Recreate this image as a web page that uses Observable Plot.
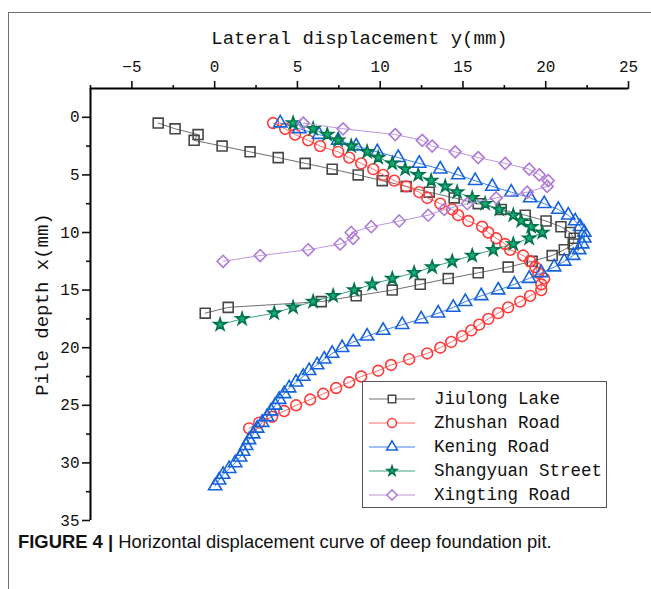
<!DOCTYPE html>
<html>
<head>
<meta charset="utf-8">
<script src="https://cdn.jsdelivr.net/npm/d3@7"></script>
<script src="https://cdn.jsdelivr.net/npm/@observablehq/plot@0.6"></script>
<style>
  body { margin: 0; background: #fff; overflow: hidden; }
  #wrap { position: relative; width: 651px; height: 589px; overflow: hidden; background: #fff; }
  #frame { position: absolute; left: 8px; top: 12px; width: 700px; height: 700px; border: 1.5px solid #707070; box-sizing: border-box; }
  #chart { position: absolute; left: 0; top: 0; }
  #chart svg { overflow: visible; }
  #chart g[aria-label="x-axis label"] text, #chart g[aria-label="y-axis label"] text { font-size: 19px; }
  #legend { position: absolute; left: 362px; top: 381px; width: 245px; height: 127px; border: 1.5px solid #555; background: #fff; box-sizing: border-box; }
  #legend .row { position: absolute; left: 0; height: 24px; display: flex; align-items: center; }
  #legend .row span { font-family: "Liberation Mono", monospace; font-size: 17.5px; color: #111; margin-left: 15px; white-space: nowrap; }
  #caption { position: absolute; left: 18px; top: 531px; font-family: "Liberation Sans", Arial, sans-serif; font-size: 18.4px; color: #111; white-space: nowrap; }
</style>
</head>
<body>
<div id="wrap">
  <div id="frame"></div>
  <div id="chart"></div>
  <div id="legend"></div>
  <div id="caption"><b>FIGURE 4 |</b> Horizontal displacement curve of deep foundation pit.</div>
</div>
<script>
// ---- data (x = lateral displacement in mm, depth = pile depth in m) ----
const jiulongDepth = [0.5,1,1.5,2,2.5,3,3.5,4,4.5,5,5.5,6,6.5,7,7.5,8,8.5,9,9.5,10,10.5,11,11.5,12,12.5,13,13.5,14,14.5,15,15.5,16,16.5,17];
const jiulongX = [-3.41,-2.39,-1.00,-1.24,0.45,2.14,3.84,5.47,7.10,8.67,10.12,11.57,12.96,14.47,15.92,17.31,18.76,20.02,20.92,21.48,21.72,21.66,21.12,20.39,19.18,17.73,15.92,14.11,12.42,10.73,8.55,6.44,0.82,-0.57];

const zhushanDepth = [0.5,1,1.5,2,2.5,3,3.5,4,4.5,5,5.5,6,6.5,7,7.5,8,8.5,9,9.5,10,10.5,11,11.5,12,12.5,13,13.5,14,14.5,15,15.5,16,16.5,17,17.5,18,18.5,19,19.5,20,20.5,21,21.5,22,22.5,23,23.5,24,24.5,25,25.5,26,26.5,27];
const zhushanX = [3.53,4.26,4.86,5.65,6.37,7.46,8.13,8.85,9.58,10.18,10.85,11.57,12.36,12.84,13.63,14.35,14.71,15.32,16.16,16.53,17.01,17.55,17.85,18.64,19.06,19.37,19.55,19.91,19.73,19.73,19.06,18.46,17.73,17.13,16.53,15.98,15.50,14.95,14.29,13.63,12.84,11.75,10.66,9.88,8.85,8.13,7.34,6.56,5.77,4.92,4.20,3.47,2.69,2.08];

const keningDepth = [0.5,1,1.5,2,2.5,3,3.5,4,4.5,5,5.5,6,6.5,7,7.5,8,8.5,9,9.5,10,10.5,11,11.5,12,12.5,13,13.5,14,14.5,15,15.5,16,16.5,17,17.5,18,18.5,19,19.5,20,20.5,21,21.5,22,22.5,23,23.5,24,24.5,25,25.5,26,26.5,27,27.5,28,28.5,29,29.5,30,30.5,31,31.5,32];
const keningX = [3.96,5.11,6.31,7.46,8.55,9.82,11.09,12.36,13.63,14.71,15.74,16.77,17.92,19.06,19.91,20.76,21.36,21.78,22.08,22.33,22.33,22.21,22.02,21.66,21.12,20.51,19.73,19.00,18.10,17.13,16.10,15.14,14.41,13.50,12.48,11.33,10.18,9.21,8.37,7.70,7.10,6.62,6.19,5.71,5.35,4.92,4.50,4.20,3.90,3.66,3.41,3.17,2.87,2.57,2.33,2.08,1.90,1.72,1.54,1.24,0.88,0.51,0.27,0.03];

const shangyuanDepth = [0.5,1,1.5,2,2.5,3,3.5,4,4.5,5,5.5,6,6.5,7,7.5,8,8.5,9,9.5,10,10.5,11,11.5,12,12.5,13,13.5,14,14.5,15,15.5,16,16.5,17,17.5,18];
const shangyuanX = [4.74,5.95,6.80,7.46,8.25,9.21,9.88,10.73,11.51,12.30,13.08,13.93,14.65,15.56,16.34,17.19,18.04,18.52,19.12,19.79,19.00,18.04,16.83,15.56,14.35,13.14,12.05,10.73,9.52,8.43,7.16,5.95,4.74,3.60,1.66,0.33];

const xingtingDepth = [0.5,1,1.5,2,2.5,3,3.5,4,4.5,5,5.5,6,6.5,7,7.5,8,8.5,9,9.5,10,10.5,11,11.5,12,12.5];
const xingtingX = [5.35,7.76,10.91,12.54,13.14,14.53,15.92,17.55,19.00,19.61,20.15,20.09,18.88,17.01,15.26,13.87,12.90,11.15,9.46,8.25,8.37,7.58,5.65,2.75,0.51];

const seriesNames = ["Jiulong Lake", "Zhushan Road", "Kening Road", "Shangyuan Street", "Xingting Road"];
const xTicks = [-5, 0, 5, 10, 15, 20, 25];
const xMinorTicks = [-7.5, -2.5, 2.5, 7.5, 12.5, 17.5, 22.5];
const yTicks = [0, 5, 10, 15, 20, 25, 30, 35];
const yMinorTicks = [2.5, 7.5, 12.5, 17.5, 22.5, 27.5, 32.5];
const xTitle = "Lateral displacement y(mm)";
const yTitle = "Pile depth x(mm)";

// ---- styles ----
const styles = [
  {symbol: "square",   stroke: "#474747", fill: "none",    line: "#707070", r: 5.6, legendR: 4.2},
  {symbol: "circle",   stroke: "#ff3a3a", fill: "none",    line: "#ff6b6b", r: 5.4, legendR: 4.4},
  {symbol: "triangle", stroke: "#1463dc", fill: "none",    line: "#3f82e6", r: 4.9, legendR: 4.0},
  {symbol: "star",     stroke: "#00734a", fill: "#12b076", line: "#3aa57d", r: 3.9, legendR: 3.1},
  {symbol: "diamond2", stroke: "#b07ad8", fill: "none",    line: "#bd95dd", r: 5.4, legendR: 4.6}
];
const xs = [jiulongX, zhushanX, keningX, shangyuanX, xingtingX];
const ds = [jiulongDepth, zhushanDepth, keningDepth, shangyuanDepth, xingtingDepth];
const series = seriesNames.map((name, i) => ({
  name, ...styles[i],
  data: xs[i].map((x, j) => ({x, depth: ds[i][j]}))
}));

const marks = [];
for (const s of series) {
  marks.push(Plot.line(s.data, {x: "x", y: "depth", stroke: s.line, strokeWidth: 1}));
  marks.push(Plot.dot(s.data, {x: "x", y: "depth", symbol: s.symbol, r: s.r, stroke: s.stroke, fill: s.fill, strokeWidth: 1.6}));
}

const chart = Plot.plot({
  width: 651,
  height: 530,
  marginLeft: 90,
  marginRight: 23,
  marginTop: 88,
  marginBottom: 10,
  style: {fontFamily: "'Liberation Mono', monospace", fontSize: "16px", color: "#111", background: "transparent"},
  x: {domain: [-7.5, 25]},
  y: {domain: [-2.5, 35], reverse: true},
  marks: [
    Plot.axisX({anchor: "top", ticks: xTicks, tickSize: 8, tickPadding: 9, strokeWidth: 1.6,
      label: xTitle, labelAnchor: "center", labelOffset: 58, labelArrow: "none"}),
    Plot.axisX({anchor: "top", ticks: xMinorTicks, tickSize: 4, strokeWidth: 1.6, tickFormat: () => "", label: null}),
    Plot.axisY({anchor: "left", ticks: yTicks, tickSize: 8, tickPadding: 3, strokeWidth: 1.6,
      label: yTitle, labelAnchor: "center", labelOffset: 56, labelArrow: "none"}),
    Plot.axisY({anchor: "left", ticks: yMinorTicks, tickSize: 4, strokeWidth: 1.6, tickFormat: () => "", label: null}),
    Plot.ruleY([-2.5], {stroke: "#000", strokeWidth: 2}),
    Plot.ruleX([-7.5], {stroke: "#000", strokeWidth: 2}),
    ...marks
  ]
});
document.getElementById("chart").appendChild(chart);

// ---- legend ----
const legend = d3.select("#legend");
const symbolMap = {square: d3.symbolSquare, circle: d3.symbolCircle, triangle: d3.symbolTriangle, star: d3.symbolStar, diamond2: d3.symbolDiamond2};
series.forEach((s, i) => {
  const row = legend.append("div").attr("class", "row").style("top", (5 + i * 24) + "px");
  const svg = row.append("svg").attr("width", 52).attr("height", 24).style("margin-left", "4px");
  svg.append("line").attr("x1", 2).attr("x2", 48).attr("y1", 12).attr("y2", 12).attr("stroke", s.line).attr("stroke-width", 1);
  svg.append("path").attr("transform", "translate(25,12)")
    .attr("d", d3.symbol(symbolMap[s.symbol], Math.PI * s.legendR * s.legendR)())
    .attr("stroke", s.stroke).attr("fill", s.fill === "none" ? "#fff" : s.fill).attr("stroke-width", 1.5);
  row.append("span").text(s.name);
});
</script>
</body>
</html>
